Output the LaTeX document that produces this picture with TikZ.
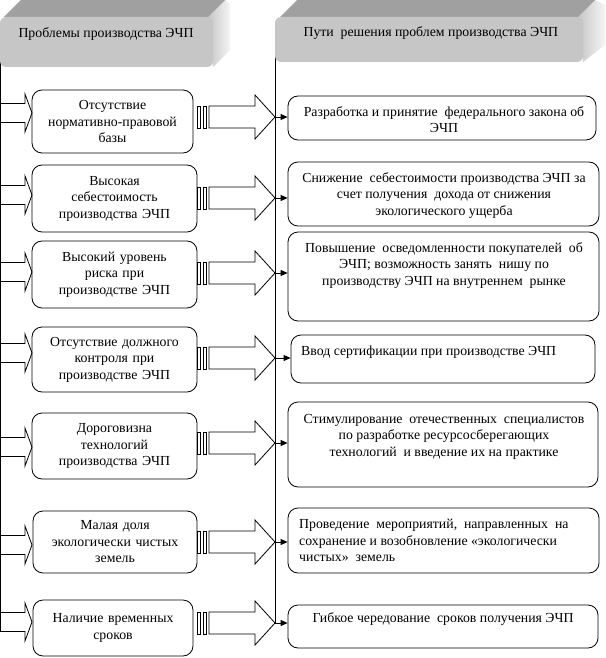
\documentclass[tikz,border=0pt]{standalone}
\usepackage{fontspec}
\setmainfont{Liberation Serif}
\newfontfamily\tnr{Liberation Serif}
\usetikzlibrary{arrows.meta}
\definecolor{topgray}{HTML}{A0A0A0}
\definecolor{frontgray}{HTML}{C6C6C6}
\begin{document}
\begin{tikzpicture}[x=1pt,y=-1pt,
  every node/.style={font=\tnr\fontsize{13.8}{16.5}\selectfont},
  ln/.style={line width=0.8pt},
  lbox/.style={draw, ln, rounded corners=10pt, inner sep=0pt, align=center, text width=158pt},
  rbox/.style={draw, ln, rounded corners=10pt, inner sep=0pt},
  rtext/.style={anchor=north, inner sep=0pt, align=center},
  rltext/.style={anchor=north west, inner sep=0pt, align=left},
  conn/.style={ln, -{Triangle[length=7pt,width=6pt]}},
  pics/striped/.style={code={
     \draw[ln] (0,-11) rectangle (3.5,11);
     \draw[ln] (6,-11) rectangle (9.5,11);
     \draw[ln, fill=white] (12,-11) -- (58,-11) -- (58,-22) -- (78,0) -- (58,22) -- (58,11) -- (12,11) -- cycle;
  }},
  pics/inarrow/.style={code={
     \draw[ln] (0,-9.5) -- (25,-9.5) -- (25,-19) -- (32,0) -- (25,19) -- (25,9.5) -- (0,9.5);
  }},
]
\useasboundingbox (0,0) rectangle (605,658);

% vertical lines
\draw[ln] (0.5,50) -- (0.5,632);
\draw[ln] (275.5,50) -- (275.5,623);

% headers
\shade[left color=gray!45, right color=gray!8] (208,17) -- (225,0) -- (230,4) -- (230,50) -- (213,67) -- cycle;
\fill[topgray] (4,17) -- (21,0) -- (225,0) -- (208,17) -- cycle;
\fill[frontgray, rounded corners=6pt] (0,17) rectangle (213,67);
\node[anchor=west] (h1) at (15,34) {Проблемы производства ЭЧП};

\shade[left color=gray!45, right color=gray!8] (578,17) -- (595,0) -- (605,5) -- (605,45) -- (583,62) -- cycle;
\fill[topgray] (280,17) -- (297,0) -- (595,0) -- (578,17) -- cycle;
\fill[frontgray, rounded corners=6pt] (275,17) rectangle (583,62);
\node[anchor=west] (h2) at (300,33) {Пути\ \ решения проблем производства ЭЧП};

% left boxes
\node[lbox, minimum width=161pt, minimum height=63pt] (L1) at (112.5,121.5) {Отсутствие\\нормативно-правовой\\базы};
\node[lbox, minimum width=165pt, minimum height=67pt] (L2) at (114.5,198.5) {Высокая\\себестоимость\\производства ЭЧП};
\node[lbox, minimum width=165pt, minimum height=67pt] (L3) at (114.5,274.5) {Высокий уровень\\риска при\\производстве ЭЧП};
\node[lbox, minimum width=165pt, minimum height=65pt] (L4) at (114.5,359.5) {Отсутствие должного\\контроля при\\производстве ЭЧП};
\node[lbox, minimum width=165pt, minimum height=66pt] (L5) at (114.5,446) {Дороговизна\\технологий\\производства ЭЧП};
\node[lbox, minimum width=164pt, minimum height=62pt] (L6) at (115,542) {Малая доля\\экологически чистых\\земель};
\node[lbox, minimum width=160pt, minimum height=56pt] (L7) at (113,628) {Наличие временных\\сроков};

% right boxes
\node[rbox, minimum width=308pt, minimum height=44pt] (R1) at (442,118) {};
\node[rbox, minimum width=311pt, minimum height=64pt] (R2) at (443.5,194) {};
\node[rbox, minimum width=311pt, minimum height=89pt] (R3) at (443.5,276.5) {};
\node[rbox, minimum width=304pt, minimum height=48pt] (R4) at (443,359) {};
\node[rbox, minimum width=310pt, minimum height=85pt] (R5) at (443,444.5) {};
\node[rbox, minimum width=311pt, minimum height=65pt] (R6) at (443.5,540.5) {};
\node[rbox, minimum width=310pt, minimum height=43pt] (R7) at (443,626.5) {};

\node[rtext] (T1) at (444,106) {Разработка и принятие\ \ федерального закона об\\ЭЧП};
\node[rtext] (T2) at (444,172) {Снижение\ \ себестоимости производства ЭЧП за\\счет получения\ \ дохода от снижения\\экологического ущерба};
\node[rtext] (T3) at (444,242) {Повышение\ \ осведомленности покупателей\ \ об\\ЭЧП; возможность занять\ \ нишу по\\производству ЭЧП на внутреннем\ \ рынке};
\node[rltext] (T4) at (301,346) {Ввод сертификации при производстве ЭЧП};
\node[rtext] (T5) at (444,414) {Стимулирование\ \ отечественных\ \ специалистов\\по разработке ресурсосберегающих\\технологий\ \ и введение их на практике};
\node[rltext] (T6) at (299,519) {Проведение\ \ мероприятий,\ \ направленных\ \ на\\сохранение и возобновление «экологически\\чистых»\ \ земель};
\node[rtext] (T7) at (443,612) {Гибкое чередование\ \ сроков получения ЭЧП};

% input arrows on the left
\pic at (0,113) {inarrow};
\pic at (0,195) {inarrow};
\pic at (0,272) {inarrow};
\pic at (0,353) {inarrow};
\pic at (0,447) {inarrow};
\pic at (0,545) {inarrow};
\pic at (0,622) {inarrow};

% striped arrows and connectors
\coordinate (t1) at (275,117);
\coordinate (t2) at (275,198);
\coordinate (t3) at (275,273);
\coordinate (t4) at (275,358);
\coordinate (t5) at (275,443);
\coordinate (t6) at (275,542);
\coordinate (t7) at (275,623);
\pic at (197,117) {striped};
\pic at (197,198) {striped};
\pic at (197,273) {striped};
\pic at (197,358) {striped};
\pic at (197,443) {striped};
\pic at (197,542) {striped};
\pic at (197,623) {striped};
\draw[conn] (t1) -- (t1 -| R1.west);
\draw[conn] (t2) -- (t2 -| R2.west);
\draw[conn] (t3) -- (t3 -| R3.west);
\draw[conn] (t4) -- (t4 -| R4.west);
\draw[conn] (t5) -- (t5 -| R5.west);
\draw[conn] (t6) -- (t6 -| R6.west);
\draw[conn] (t7) -- (t7 -| R7.west);
\end{tikzpicture}
\end{document}
